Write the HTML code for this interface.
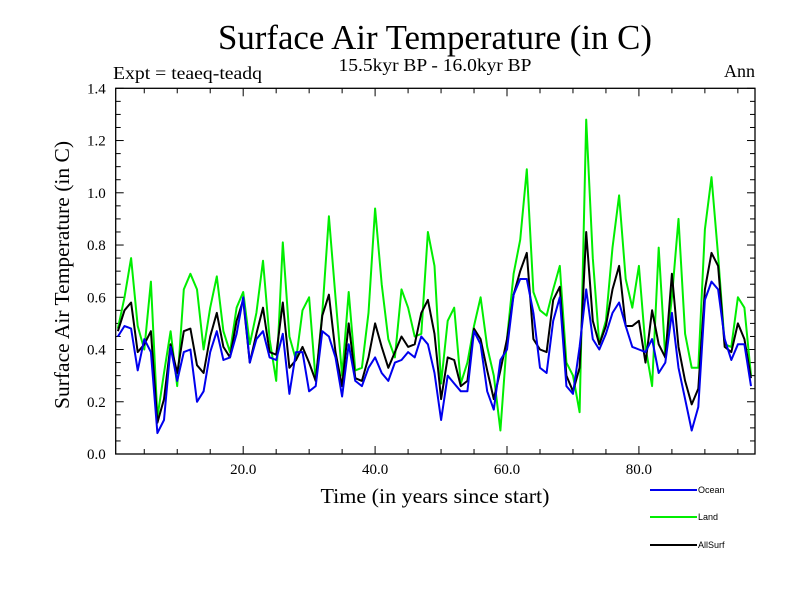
<!DOCTYPE html>
<html><head><meta charset="utf-8"><style>
html,body{margin:0;padding:0;background:#fff;}
svg{display:block;}
</style></head><body>
<svg id="chart" width="800" height="600" viewBox="0 0 800 600" font-family="Liberation Serif, serif">
<text x="435" y="49" text-anchor="middle" font-size="35" textLength="434" lengthAdjust="spacingAndGlyphs">Surface Air Temperature (in C)</text>
<text x="435" y="71" text-anchor="middle" font-size="18" textLength="193" lengthAdjust="spacingAndGlyphs">15.5kyr BP - 16.0kyr BP</text>
<text x="113" y="79" font-size="18" textLength="149" lengthAdjust="spacingAndGlyphs">Expt = teaeq-teadq</text>
<text x="755" y="77" text-anchor="end" font-size="18">Ann</text>
<text transform="translate(69,275) rotate(-90)" text-anchor="middle" font-size="21" textLength="268" lengthAdjust="spacingAndGlyphs">Surface Air Temperature (in C)</text>
<text x="435" y="503" text-anchor="middle" font-size="21" textLength="229" lengthAdjust="spacingAndGlyphs">Time (in years since start)</text>
<g id="axes"></g>
<g id="series"></g>
<g id="legend"></g>
</svg>
<script>
const years = [];
for (let i = 1; i <= 97; i++) years.push(i);
const oceanValues = [0.45,0.49,0.48,0.32,0.44,0.39,0.08,0.13,0.41,0.28,0.39,0.40,0.20,0.24,0.39,0.47,0.36,0.37,0.46,0.60,0.35,0.44,0.47,0.37,0.36,0.46,0.23,0.39,0.39,0.24,0.26,0.47,0.45,0.37,0.22,0.42,0.28,0.26,0.33,0.37,0.31,0.28,0.35,0.36,0.39,0.37,0.45,0.42,0.31,0.13,0.30,0.27,0.24,0.24,0.47,0.42,0.24,0.17,0.36,0.40,0.61,0.67,0.67,0.54,0.33,0.31,0.51,0.60,0.26,0.23,0.41,0.63,0.44,0.40,0.46,0.54,0.58,0.49,0.41,0.40,0.39,0.44,0.31,0.35,0.54,0.33,0.21,0.09,0.18,0.59,0.66,0.63,0.44,0.36,0.42,0.42,0.26];
const landValues = [0.48,0.60,0.75,0.49,0.40,0.66,0.14,0.31,0.47,0.26,0.63,0.69,0.63,0.40,0.56,0.68,0.47,0.39,0.56,0.62,0.42,0.54,0.74,0.44,0.28,0.81,0.45,0.36,0.55,0.60,0.28,0.54,0.91,0.60,0.30,0.62,0.32,0.33,0.54,0.94,0.65,0.44,0.37,0.63,0.56,0.45,0.46,0.85,0.72,0.27,0.51,0.56,0.27,0.35,0.49,0.60,0.41,0.30,0.09,0.44,0.69,0.82,1.09,0.62,0.55,0.53,0.63,0.72,0.35,0.30,0.16,1.28,0.75,0.42,0.51,0.79,0.99,0.67,0.56,0.72,0.41,0.26,0.79,0.37,0.60,0.90,0.46,0.33,0.33,0.86,1.06,0.76,0.42,0.41,0.60,0.56,0.30];
const allSurfValues = [0.47,0.55,0.58,0.39,0.42,0.47,0.12,0.21,0.42,0.31,0.47,0.48,0.34,0.31,0.45,0.54,0.41,0.37,0.51,0.59,0.35,0.46,0.56,0.39,0.38,0.58,0.33,0.36,0.41,0.35,0.28,0.53,0.61,0.39,0.26,0.50,0.29,0.28,0.37,0.50,0.41,0.33,0.39,0.45,0.41,0.42,0.54,0.59,0.46,0.21,0.37,0.36,0.26,0.28,0.48,0.44,0.32,0.21,0.32,0.44,0.61,0.70,0.77,0.44,0.40,0.39,0.59,0.64,0.30,0.24,0.33,0.85,0.51,0.42,0.49,0.63,0.72,0.49,0.49,0.51,0.35,0.55,0.42,0.37,0.69,0.41,0.28,0.19,0.25,0.63,0.77,0.72,0.41,0.39,0.50,0.44,0.29];
const yTickValues = [0.0,0.2,0.4,0.6,0.8,1.0,1.2,1.4];
const xTickValues = [20,40,60,80];

const L=115.7,R=755,T=88.3,B=454;
const X0=0.67,X1=97.6,Y0=0,Y1=1.4;
function xs(v){return L+(v-X0)/(X1-X0)*(R-L);}
function ys(v){return B-(v-Y0)/(Y1-Y0)*(B-T);}
const NS='http://www.w3.org/2000/svg';
function mk(tag,attrs,parent){const e=document.createElementNS(NS,tag);for(const k in attrs)e.setAttribute(k,attrs[k]);parent.appendChild(e);return e;}
const axes=document.getElementById('axes');
const frame=mk('rect',{x:L,y:T,width:R-L,height:B-T,fill:'none',stroke:'#000','stroke-width':1.3},axes);


for(let v=0;v<=1.4001;v+=0.05){
  const y=ys(v);const major=Math.abs(v*5-Math.round(v*5))<1e-6;const len=major?8:5;
  const t1=mk('line',{x1:L,y1:y,x2:L+len,y2:y,stroke:'#000','stroke-width':1},axes);
  
  
  const t2=mk('line',{x1:R,y1:y,x2:R-len,y2:y,stroke:'#000','stroke-width':1},axes);
  
  
}
yTickValues.forEach(v=>{
  const t=mk('text',{x:L-10,y:ys(v)+5,'text-anchor':'end','font-size':15},axes);
  t.textContent=v.toFixed(1);
  
  
});
for(let v=5;v<=95;v+=5){
  const x=xs(v);const major=v%20===0;const len=major?8:5;
  const t1=mk('line',{x1:x,y1:B,x2:x,y2:B-len,stroke:'#000','stroke-width':1},axes);
  
  
  const t2=mk('line',{x1:x,y1:T,x2:x,y2:T+len,stroke:'#000','stroke-width':1},axes);
  
  
}
xTickValues.forEach(v=>{
  const t=mk('text',{x:xs(v),y:B+20,'text-anchor':'middle','font-size':15},axes);
  t.textContent=v.toFixed(1);
  
  
});
const series=document.getElementById('series');
function line(vals,color,name){
  const d=vals.map((v,i)=>(i?'L':'M')+xs(years[i]).toFixed(1)+','+ys(v).toFixed(1)).join(' ');
  const p=mk('path',{d:d,fill:'none',stroke:color,'stroke-width':2,'stroke-linejoin':'round'},series);
  
  
}
line(landValues,'#00ee00','land-line');
line(allSurfValues,'#000000','allsurf-line');
line(oceanValues,'#0000ee','ocean-line');
const legend=document.getElementById('legend');
[['Ocean','#0000ee',490],['Land','#00ee00',517],['AllSurf','#000000',545]].forEach(e=>{
  const g=mk('g',{},legend);
  
  
  mk('line',{x1:650,y1:e[2],x2:697,y2:e[2],stroke:e[1],'stroke-width':2},g);
  const t=mk('text',{x:698,y:e[2]+3,'font-size':9,'font-family':'Liberation Sans, sans-serif'},g);
  t.textContent=e[0];
});
</script>
</body></html>
